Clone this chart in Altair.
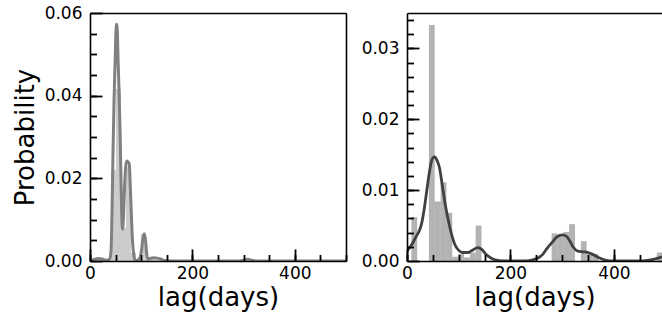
import altair as alt
import pandas as pd

# ---------------- data ----------------
L_BIN_LO = [41.0, 50.7, 60.5, 70.2, 80.0, 99.5, 109.2, 119.0, 128.7]
L_BIN_HI = [50.7, 60.5, 70.2, 80.0, 89.7, 109.2, 119.0, 128.7, 138.5]
L_BIN_VAL = [0.0220, 0.0416, 0.0080, 0.0227, 0.0020, 0.0065, 0.0006, 0.0006, 0.0004]

L_KDE_DAY = [0, 8, 16, 24, 32, 38, 41, 43, 45, 47, 49, 50.5, 52, 53.5, 55, 57, 59,
             60.5, 62, 63.7, 65.5, 67.5, 69.5, 71.5, 74, 76.7, 79, 81, 83, 85, 88,
             91, 95, 98.5, 101, 103.5, 106, 108.5, 110.5, 113, 117, 124, 131, 138,
             145, 160, 290, 300, 308, 316, 325, 500]
L_KDE_VAL = [0.0001, 0.0004, 0.0006, 0.0005, 0.0002, 0.0004, 0.0024, 0.0120, 0.0266,
             0.0390, 0.0480, 0.0550, 0.0573, 0.0550, 0.0480, 0.0400, 0.0300, 0.0200,
             0.0110, 0.0077, 0.0110, 0.0180, 0.0225, 0.0242, 0.0240, 0.0235, 0.0170,
             0.0105, 0.0050, 0.0020, 0.0003, 0.0001, 0.0003, 0.0012, 0.0030, 0.0055,
             0.0066, 0.0050, 0.0020, 0.0004, 0.0006, 0.0008, 0.0007, 0.0005, 0.0001,
             0.0, 0.0, 0.0002, 0.0004, 0.0002, 0.0, 0.0]

R_BIN_LO = [8.4, 42.3, 53.6, 64.9, 76.2, 87.5, 98.8, 110.1, 121.4, 132.7,
            279.6, 290.9, 302.2, 313.5, 336.1, 347.4, 358.7, 483.0]
R_BIN_HI = [19.7, 53.6, 64.9, 76.2, 87.5, 98.8, 110.1, 121.4, 132.7, 144.0,
            290.9, 302.2, 313.5, 324.8, 347.4, 358.7, 370.0, 494.3]
R_BIN_VAL = [0.0062, 0.0333, 0.0084, 0.0111, 0.0068, 0.0006, 0.0010, 0.0005, 0.0012, 0.0050,
             0.0039, 0.0035, 0.0041, 0.0052, 0.0028, 0.0012, 0.0010, 0.0012]

R_KDE_DAY = [0, 10, 18, 24, 28, 33, 38, 43, 47, 50.5, 54, 58, 63, 68, 73, 78, 83, 88,
             92, 100, 108, 118, 128, 137, 145, 152, 163, 175, 190, 230, 245, 255, 262,
             270, 280, 290, 300, 308, 315, 322, 330, 340, 350, 360, 370, 385, 400,
             450, 465, 480, 493]
R_KDE_VAL = [0.0014, 0.0024, 0.0035, 0.0043, 0.0052, 0.0072, 0.0098, 0.0124, 0.0140,
             0.0146, 0.0147, 0.0142, 0.0131, 0.0108, 0.0084, 0.0064, 0.0047, 0.0033,
             0.0024, 0.0015, 0.0012, 0.0012, 0.0016, 0.0019, 0.0016, 0.0010, 0.0004,
             0.0001, 0.0, 0.0, 0.0002, 0.0005, 0.0009, 0.0017, 0.0026, 0.0034, 0.0037,
             0.0035, 0.0028, 0.0019, 0.0014, 0.0013, 0.0012, 0.0009, 0.0005, 0.0001,
             0.0, 0.0, 0.0001, 0.0003, 0.0006]

X_LABELS = [0, 200, 400]
X_MINOR = [0, 50, 100, 150, 200, 250, 300, 350, 400, 450, 500]
L_Y_LABELS = [0.0, 0.02, 0.04, 0.06]
L_Y_MINOR = [0.005, 0.01, 0.015, 0.02, 0.025, 0.03, 0.035, 0.04, 0.045, 0.05, 0.055]
R_Y_LABELS = [0.0, 0.01, 0.02, 0.03]
R_Y_MINOR = [0.002, 0.004, 0.006, 0.008, 0.010, 0.012, 0.014, 0.016, 0.018, 0.020,
             0.022, 0.024, 0.026, 0.028, 0.030, 0.032, 0.034]

FONT = "DejaVu Sans"
MAJOR_LEN = 12
MINOR_LEN = 6.5


def panel(bin_lo, bin_hi, bin_val, kde_day, kde_val, xdom, ydom, w, h,
          y_labels, y_minor, y_title, line_color, line_width, right_border):
    bars = pd.DataFrame({"lo": bin_lo, "hi": bin_hi, "val": bin_val})
    kde = pd.DataFrame({"day": kde_day, "val": kde_val})
    xs = alt.Scale(domain=xdom, nice=False, zero=False)
    ys = alt.Scale(domain=ydom, nice=False, zero=False)

    main_x = alt.Axis(orient="bottom", values=X_LABELS, format="d", ticks=False, tickSize=0,
                      labelPadding=4, domain=True, title="lag(days)", titlePadding=3,
                      zindex=1, labelFlush=False)
    main_y = alt.Axis(orient="left", values=y_labels, format=".2f", ticks=False, tickSize=0,
                      labelPadding=8, domain=True, title=y_title, titlePadding=6, zindex=1)

    minor_x = alt.Axis(orient="bottom", values=X_MINOR, labels=False, domain=False,
                       ticks=True, tickSize=MINOR_LEN, offset=-MINOR_LEN, title=None, zindex=2)
    minor_y = alt.Axis(orient="left", values=y_minor, labels=False, domain=False,
                       ticks=True, tickSize=MINOR_LEN, offset=-MINOR_LEN, title=None, zindex=2)
    major_x = alt.Axis(orient="bottom", values=X_LABELS, labels=False, domain=False,
                       ticks=True, tickSize=MAJOR_LEN, offset=-MAJOR_LEN, title=None, zindex=2)
    major_y = alt.Axis(orient="left", values=y_labels, labels=False, domain=False,
                       ticks=True, tickSize=MAJOR_LEN, offset=-MAJOR_LEN, title=None, zindex=2)
    top_x = alt.Axis(orient="top", labels=False, ticks=False, domain=True, title=None, zindex=1)
    right_y = alt.Axis(orient="right", labels=False, ticks=False, domain=True, title=None, zindex=1)

    l_bars = alt.Chart(bars).mark_rect(color=line_color, opacity=0.4, clip=True).encode(
        x=alt.X("lo:Q", scale=xs, axis=main_x),
        x2="hi:Q",
        y=alt.Y("val:Q", scale=ys, axis=main_y),
        y2=alt.datum(0),
    )
    l_line = alt.Chart(kde).mark_line(color=line_color, strokeWidth=line_width,
                                      interpolate="monotone", clip=True).encode(
        x=alt.X("day:Q", scale=xs, axis=minor_x),
        y=alt.Y("val:Q", scale=ys, axis=minor_y),
    )
    l_major = alt.Chart(kde).mark_point(opacity=0, clip=True).encode(
        x=alt.X("day:Q", scale=xs, axis=major_x),
        y=alt.Y("val:Q", scale=ys, axis=major_y),
    )
    if right_border:
        l_frame = alt.Chart(kde).mark_point(opacity=0, clip=True).encode(
            x=alt.X("day:Q", scale=xs, axis=top_x),
            y=alt.Y("val:Q", scale=ys, axis=right_y),
        )
    else:
        l_frame = alt.Chart(kde).mark_point(opacity=0, clip=True).encode(
            x=alt.X("day:Q", scale=xs, axis=top_x),
            y=alt.Y("val:Q", scale=ys, axis=None),
        )
    return alt.layer(l_bars, l_line, l_major, l_frame).resolve_axis(
        x="independent", y="independent"
    ).properties(width=w, height=h)


left = panel(L_BIN_LO, L_BIN_HI, L_BIN_VAL, L_KDE_DAY, L_KDE_VAL, [0, 500], [0, 0.06],
             256, 248, L_Y_LABELS, L_Y_MINOR, "Probability", "#808080", 3, True)
right = panel(R_BIN_LO, R_BIN_HI, R_BIN_VAL, R_KDE_DAY, R_KDE_VAL, [0, 493], [0, 0.035],
              255, 248, R_Y_LABELS, R_Y_MINOR, "", "#404040", 2.8, False)

chart = alt.hconcat(left, right, spacing=61, bounds="flush").properties(
    padding={"left": 12, "top": 4, "right": 0, "bottom": 12},
    background="white",
).configure_view(strokeWidth=0).configure_axis(
    labelFont=FONT, labelFontSize=17, labelColor="black",
    titleFont=FONT, titleFontSize=26, titleColor="black", titleFontWeight="normal",
    tickColor="black", tickWidth=1.8, domainColor="black", domainWidth=1.6,
    grid=False,
)

chart.save("out.html", embed_options={"renderer": "svg", "actions": False})
